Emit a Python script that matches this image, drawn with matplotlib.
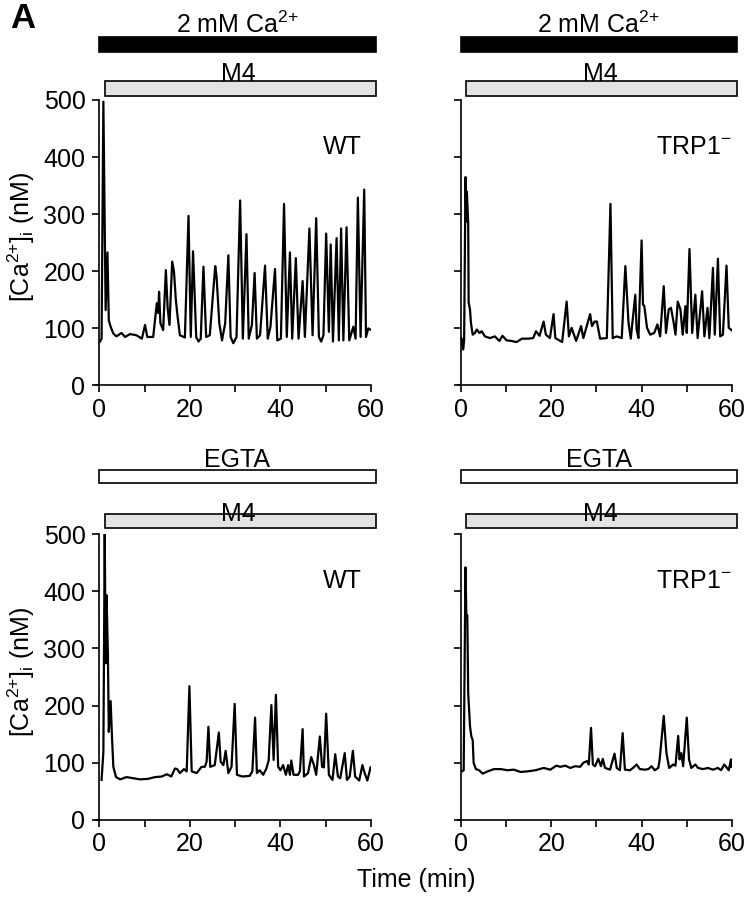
import matplotlib
matplotlib.use("Agg")
from matplotlib import pyplot as plt
from matplotlib.patches import Rectangle

plt.rcParams['font.family'] = ['Liberation Sans', 'DejaVu Sans']
plt.rcParams['mathtext.default'] = 'regular'

# ---------- traces: time (min) and [Ca2+]i (nM) ----------
wt_ca_t = [0.15, 0.5, 0.9, 1.4, 1.8, 2.1, 2.5, 3.1, 3.8, 4.9, 5.7, 6.8, 8.2, 9.4, 10.1, 10.6, 11.9,
           12.7, 13.0, 13.2, 13.5, 14.1, 14.7, 15.1, 15.5, 16.1, 16.5, 16.9, 17.3, 17.8, 18.9,
           19.7, 20.2, 20.7, 21.4, 21.9, 22.4, 23.0, 23.6, 24.4, 25.6, 25.9, 26.5, 27.1, 27.8,
           28.5, 29.0, 29.6, 30.3, 31.1, 31.7, 32.5, 33.0, 33.7, 34.3, 34.8, 35.5, 36.6, 37.2,
           37.8, 38.8, 39.3, 40.1, 40.8, 41.4, 42.1, 42.6, 43.4, 44.0, 44.9, 45.4, 46.4, 47.1,
           47.9, 48.5, 49.0, 49.5, 50.1, 50.7, 51.1, 51.6, 52.4, 52.9, 53.4, 53.9, 54.6, 55.2,
           56.1, 56.6, 57.1, 57.7, 58.5, 58.9, 59.4, 59.8]
wt_ca_v = [77, 82, 497, 132, 233, 114, 103, 91, 86, 92, 85, 90, 88, 82, 106, 85, 85,
           144, 127, 164, 109, 97, 202, 135, 106, 217, 199, 150, 120, 88, 84,
           297, 85, 235, 85, 77, 82, 208, 85, 88, 209, 190, 109, 79, 109,
           228, 85, 74, 85, 324, 82, 265, 82, 106, 197, 82, 88, 210, 82,
           103, 204, 79, 82, 318, 85, 233, 82, 223, 82, 183, 85, 275, 88,
           293, 85, 77, 88, 266, 94, 247, 77, 258, 79, 275, 79, 277, 79,
           103, 82, 329, 85, 343, 85, 100, 98]

trp_ca_t = [0.15, 0.5, 0.7, 1.0, 1.2, 1.3, 1.6, 1.7, 2.0, 2.2, 2.6, 3.1, 3.5, 4.1, 4.6, 5.3, 6.4,
            7.5, 8.5, 9.2, 10.1, 11.2, 12.3, 13.5, 14.9, 16.0, 16.6, 17.4, 18.3, 18.8, 19.7,
            20.5, 20.9, 22.0, 22.4, 23.4, 23.9, 24.5, 25.5, 26.6, 27.1, 28.6, 29.0, 29.6, 30.1,
            30.8, 32.3, 33.1, 33.6, 34.5, 35.6, 36.4, 37.1, 37.6, 38.6, 38.9, 39.3, 40.0, 40.3,
            40.6, 41.2, 41.9, 42.8, 43.5, 44.1, 44.9, 45.4, 46.0, 46.5, 47.1, 47.5, 48.0, 48.6,
            49.1, 49.7, 50.0, 50.6, 51.2, 51.9, 52.4, 53.4, 53.9, 54.6, 55.0, 55.8, 56.2, 56.9,
            57.4, 58.0, 58.8, 59.3, 59.9]
trp_ca_v = [82, 63, 80, 365, 287, 340, 284, 145, 133, 110, 89, 92, 98, 92, 95, 86, 83,
            86, 78, 87, 79, 78, 76, 82, 82, 83, 95, 87, 112, 89, 83,
            125, 83, 78, 76, 147, 86, 101, 78, 104, 83, 125, 104, 112, 112,
            82, 83, 318, 83, 86, 83, 209, 110, 82, 159, 98, 83, 254, 142,
            139, 101, 89, 92, 107, 86, 174, 92, 133, 136, 110, 89, 147, 133,
            89, 139, 92, 239, 92, 159, 83, 165, 86, 136, 83, 206, 89, 222,
            86, 89, 210, 101, 97]

wt_egta_t = [0.5, 0.9, 1.2, 1.4, 1.6, 1.9, 2.1, 2.5, 2.8, 3.1, 3.7, 4.6, 6.0, 7.5, 9.0, 10.8,
             12.3, 13.8, 14.9, 15.9, 16.7, 17.2, 17.8, 18.7, 19.3, 19.9, 20.4, 21.5, 22.6, 23.3,
             23.7, 24.1, 24.5, 25.5, 26.4, 26.8, 27.4, 27.9, 28.5, 29.2, 29.9, 30.4, 31.6, 33.2,
             33.8, 34.4, 34.8, 35.4, 36.2, 36.9, 37.4, 38.0, 38.5, 39.0, 39.5, 40.0, 40.6, 41.2,
             41.7, 42.1, 42.4, 42.9, 43.9, 44.3, 44.9, 45.2, 46.1, 46.8, 47.4, 47.9, 48.7, 49.2,
             49.6, 50.1, 50.7, 51.5, 52.1, 52.7, 53.2, 54.2, 54.7, 55.3, 56.0, 56.5, 57.4, 58.1,
             58.6, 59.2, 59.9]
wt_egta_v = [70, 119, 500, 274, 393, 291, 154, 208, 146, 93, 75, 71, 75, 73, 71, 72,
             75, 76, 80, 76, 90, 89, 82, 89, 85, 234, 85, 82, 93, 93,
             102, 163, 93, 96, 153, 102, 96, 121, 82, 93, 203, 79, 76, 77,
             85, 179, 82, 87, 79, 90, 104, 201, 105, 219, 93, 87, 96, 79,
             96, 79, 104, 79, 79, 85, 159, 76, 82, 110, 96, 79, 146, 93,
             92, 186, 79, 70, 115, 76, 73, 117, 70, 76, 121, 76, 69, 96,
             82, 69, 92]

trp_egta_t = [0.2, 0.6, 1.0, 1.2, 1.4, 1.6, 2.0, 2.3, 2.6, 2.8, 3.3, 4.0, 4.8, 5.9, 7.3, 8.8,
              10.3, 11.7, 13.2, 14.7, 16.5, 18.3, 19.8, 21.1, 22.0, 23.1, 24.2, 25.3, 26.4, 27.1,
              27.9, 28.3, 28.8, 29.2, 29.7, 30.4, 31.0, 31.4, 31.9, 33.0, 34.0, 34.5, 35.2, 35.8,
              36.3, 37.4, 38.1, 38.9, 39.6, 40.7, 41.5, 42.2, 42.9, 43.7, 44.0, 44.9, 45.5, 46.1,
              47.0, 47.5, 48.1, 48.4, 48.8, 49.2, 49.5, 50.0, 50.5, 51.0, 51.9, 52.5, 53.6, 54.7,
              55.8, 56.9, 57.6, 58.3, 58.7, 59.3, 59.8, 59.9]
trp_egta_v = [85, 87, 442, 355, 358, 222, 164, 146, 140, 100, 89, 87, 81, 85, 89, 89,
              87, 88, 84, 85, 87, 91, 88, 95, 93, 95, 91, 94, 93, 100,
              103, 97, 161, 97, 94, 107, 94, 107, 91, 88, 116, 91, 87, 152,
              88, 87, 91, 97, 89, 88, 89, 94, 87, 91, 106, 182, 117, 91,
              97, 95, 147, 106, 117, 94, 126, 179, 106, 91, 97, 91, 89, 91,
              88, 91, 87, 97, 93, 87, 106, 93]

panels = [
    (wt_ca_t, wt_ca_v, 'WT'),
    (trp_ca_t, trp_ca_v, r'TRP1$^{-}$'),
    (wt_egta_t, wt_egta_v, 'WT'),
    (trp_egta_t, trp_egta_v, r'TRP1$^{-}$'),
]
bath_labels = [r'2 mM Ca$^{2{+}}$', r'2 mM Ca$^{2{+}}$', 'EGTA', 'EGTA']
bath_colors = ['black', 'black', 'white', 'white']
drug_label = 'M4'

FS = 18
fig = plt.figure(figsize=(7.51, 8.99), dpi=100)

# axes boxes [left, bottom, width, height] in figure fractions
boxes = [[0.128, 0.5712, 0.366, 0.3176],
         [0.6096, 0.5712, 0.365, 0.3176],
         [0.128, 0.0879, 0.366, 0.318],
         [0.6096, 0.0879, 0.365, 0.318]]
# bar geometry (axes-fraction y), per row
bath_y = [(1.167, 1.222), (1.177, 1.224)]
drug_y = [(1.015, 1.066), (1.023, 1.072)]
bath_txt_y = [1.235, 1.233]
drug_txt_y = [1.068, 1.045]

for i, (t, v, name) in enumerate(panels):
    ax = fig.add_axes(boxes[i])
    row = i // 2
    ax.plot(t, v, color='black', lw=1.6)
    ax.set_xlim(-0.7, 60)
    ax.set_ylim(0, 500)
    ax.spines['top'].set_visible(False)
    ax.spines['right'].set_visible(False)
    ax.spines['left'].set_position(('data', 0))
    for s in ('left', 'bottom'):
        ax.spines[s].set_linewidth(1.2)
    ax.set_xticks(range(0, 61, 10))
    ax.set_xticklabels(['0', '', '20', '', '40', '', '60'])
    ax.set_yticks(range(0, 501, 100))
    ax.tick_params(direction='out', length=5, width=1.2, labelsize=FS, pad=4)
    ax.tick_params(axis='y', pad=5)
    if i % 2 == 0:
        ax.set_ylabel(r'[Ca$^{2{+}}$]$_i$ (nM)', fontsize=FS)
        ax.yaxis.label.set_va('center')
        ax.yaxis.set_label_coords(-0.272, 0.52)
    else:
        ax.set_yticklabels([])
    ax.text(58 if i % 2 == 0 else 60, 406, name, ha='right', va='baseline', fontsize=FS)

    tr = ax.get_xaxis_transform()
    y0, y1 = bath_y[row]
    ax.add_patch(Rectangle((0, y0), 61.1, y1 - y0, transform=tr, clip_on=False,
                           facecolor=bath_colors[i], edgecolor='black', lw=1.2))
    ax.text(30.5, bath_txt_y[row], bath_labels[i], transform=tr, ha='center',
            va='baseline', fontsize=FS)
    y0, y1 = drug_y[row]
    ax.add_patch(Rectangle((1.2, y0), 59.9, y1 - y0, transform=tr, clip_on=False,
                           facecolor='#e3e3e3', edgecolor='black', lw=1.2))
    ax.text(30.8, drug_txt_y[row], drug_label, transform=tr, ha='center',
            va='baseline', fontsize=FS, zorder=5)

fig.text(10 / 751, 1 - 28 / 899, 'A', fontsize=25, fontweight='bold', va='baseline')
fig.text(416 / 751, 1 - 887 / 899, 'Time (min)', fontsize=FS, ha='center', va='baseline')

fig.savefig('out.png', dpi=100)
